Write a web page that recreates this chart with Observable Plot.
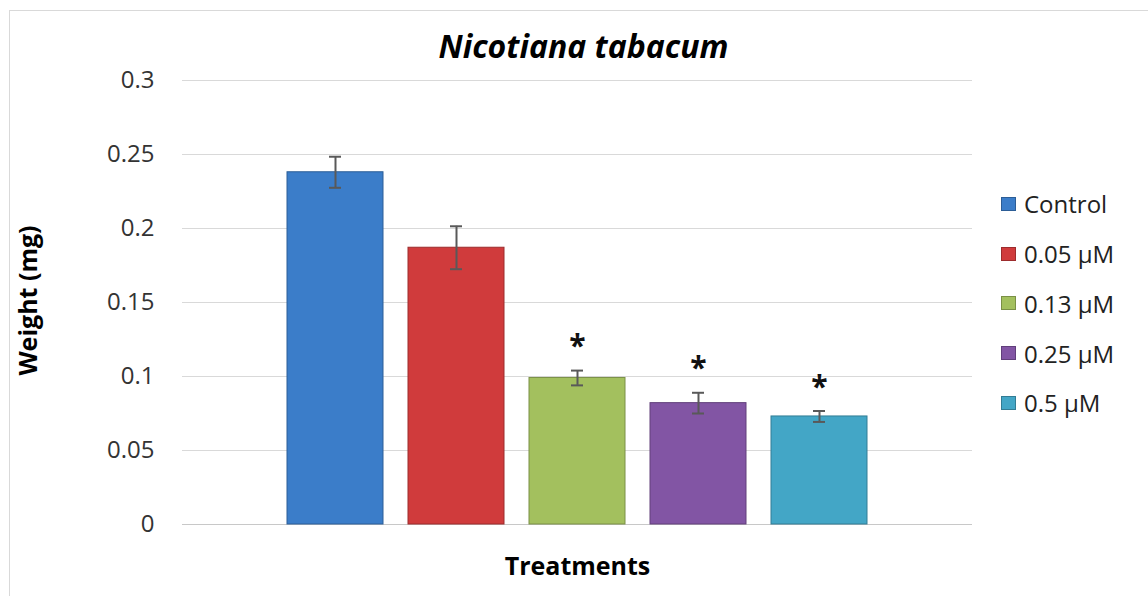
<!DOCTYPE html>
<html>
<head>
<meta charset="utf-8">
<script src="https://cdn.jsdelivr.net/npm/d3@7"></script>
<script src="https://cdn.jsdelivr.net/npm/@observablehq/plot@0.6"></script>
<style>
  html, body { margin: 0; padding: 0; background: #fff; }
  #wrap { position: relative; width: 1148px; height: 596px; overflow: hidden; font-family: "Open Sans", sans-serif; }
  #frame { position: absolute; left: 9px; top: 10px; width: 1200px; height: 700px; border-left: 1px solid #d9d9d9; border-top: 1px solid #d9d9d9; }
  #chart { position: absolute; left: 0; top: 0; }
  #legend { position: absolute; left: 1001px; top: 179px; }
  .item { display: flex; align-items: center; height: 49.75px; font-size: 24px; color: #222; }
  .sw { width: 15px; height: 14px; margin-right: 8px; box-sizing: border-box; border: 1px solid rgba(0,0,0,0.25); }
</style>
</head>
<body>
<div id="wrap">
  <div id="frame"></div>
  <div id="chart"></div>
  <div id="legend"></div>
</div>
<script>
const treatments = ["Control", "0.05 μM", "0.13 μM", "0.25 μM", "0.5 μM"];
const means = [0.238, 0.187, 0.099, 0.082, 0.073];
const errors = [0.0105, 0.0145, 0.005, 0.007, 0.0037];
const significant = [false, false, true, true, true];
const colors = ["#3B7DC9", "#D03B3C", "#A3C05E", "#8255A4", "#43A6C6"];
const yTicks = [0, 0.05, 0.1, 0.15, 0.2, 0.25, 0.3];
const yTickLabels = ["0", "0.05", "0.1", "0.15", "0.2", "0.25", "0.3"];
const title = "Nicotiana tabacum";
const xLabel = "Treatments";
const yLabel = "Weight (mg)";

const data = treatments.map((t, i) => ({
  treatment: t, mean: means[i], err: errors[i], sig: significant[i], color: colors[i]
}));

const chart = Plot.plot({
  width: 1148,
  height: 596,
  marginLeft: 182,
  marginRight: 176,
  marginTop: 80,
  marginBottom: 72,
  style: { fontFamily: "Open Sans, sans-serif", background: "transparent", color: "#333" },
  x: { type: "band", domain: treatments, paddingInner: 0.21, paddingOuter: 0.856, axis: null },
  y: { domain: [0, 0.3], axis: null },
  color: { type: "identity" },
  marks: [
    Plot.ruleY(yTicks.filter(d => d > 0), { stroke: "#d9d9d9", strokeWidth: 1 }),
    Plot.ruleY([0], { stroke: "#c8c8c8", strokeWidth: 1 }),
    Plot.axisY({
      ticks: yTicks, tickSize: 0, tickPadding: 28, label: null,
      tickFormat: d => yTickLabels[yTicks.indexOf(d)], fontSize: 24, fill: "#333"
    }),
    Plot.barY(data, {
      x: "treatment", y: "mean", fill: "color",
      stroke: d => d3.color(d.color).darker(0.8).formatHex(), strokeWidth: 1
    }),
    Plot.ruleX(data, {
      x: "treatment", y1: d => d.mean - d.err, y2: d => d.mean + d.err,
      stroke: "#595959", strokeWidth: 2
    }),
    Plot.tickY(data, {
      x: "treatment", y: d => d.mean + d.err, insetLeft: 42, insetRight: 42,
      stroke: "#595959", strokeWidth: 2
    }),
    Plot.tickY(data, {
      x: "treatment", y: d => d.mean - d.err, insetLeft: 42, insetRight: 42,
      stroke: "#595959", strokeWidth: 2
    }),
    Plot.text(data.filter(d => d.sig), {
      x: "treatment", y: d => d.mean + d.err, text: () => "*",
      dy: -24, lineAnchor: "middle", fontSize: 30, fontWeight: "bold", fill: "#111"
    }),
    Plot.text([title], {
      frameAnchor: "top", dx: 6, dy: -23, lineAnchor: "bottom",
      fontSize: 32, fontStyle: "italic", fontWeight: "bold", fill: "#000"
    }),
    Plot.text([xLabel], {
      frameAnchor: "bottom", dy: 50, lineAnchor: "bottom",
      fontSize: 25, fontWeight: "bold", fill: "#000"
    }),
    Plot.text([yLabel], {
      frameAnchor: "left", dx: -154, dy: -2, rotate: -90, lineAnchor: "middle", textAnchor: "middle",
      fontSize: 25, fontWeight: "bold", fill: "#000"
    })
  ]
});
document.getElementById("chart").appendChild(chart);

const legend = d3.select("#legend");
treatments.forEach((t, i) => {
  const row = legend.append("div").attr("class", "item");
  row.append("div").attr("class", "sw").style("background", colors[i]);
  row.append("span").text(t);
});
</script>
</body>
</html>
